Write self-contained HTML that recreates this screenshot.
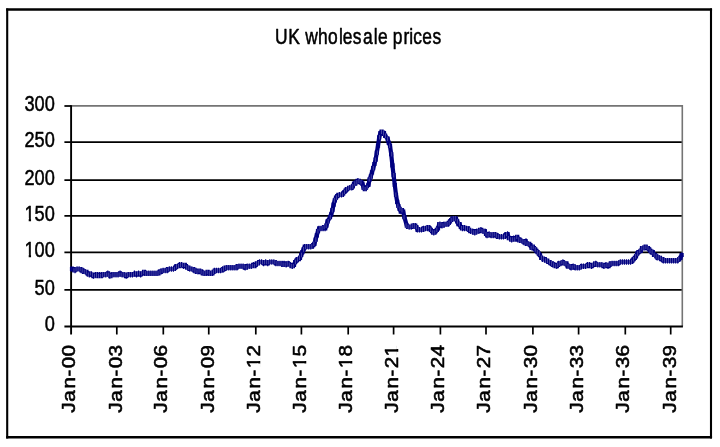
<!DOCTYPE html>
<html><head><meta charset="utf-8"><title>UK wholesale prices</title>
<style>
html,body{margin:0;padding:0;background:#fff;}
body{width:720px;height:447px;overflow:hidden;}
svg{display:block;}
text{font-family:"Liberation Sans",Arial,sans-serif;fill:#000;stroke:#000;stroke-linejoin:round;}
</style></head><body>
<svg width="720" height="447" viewBox="0 0 720 447">
<rect x="0" y="0" width="720" height="447" fill="#fff"/>
<path d="M6.15 9.55H712.05M6.15 437.3H712.05" fill="none" stroke="#000" stroke-width="2.4"/>
<path d="M7.2 8.4V438.4M711.0 8.4V438.4" fill="none" stroke="#000" stroke-width="2.1"/>
<path d="M71.1 105.9 H682.3 V326.4" fill="none" stroke="#747474" stroke-width="1.6"/>
<line x1="64.4" y1="106.0" x2="71.1" y2="106.0" stroke="#000" stroke-width="1.75"/>
<line x1="64.4" y1="142.0" x2="681.7" y2="142.0" stroke="#000" stroke-width="1.75"/>
<line x1="64.4" y1="180.0" x2="681.7" y2="180.0" stroke="#000" stroke-width="1.75"/>
<line x1="64.4" y1="215.9" x2="681.7" y2="215.9" stroke="#000" stroke-width="1.75"/>
<line x1="64.4" y1="252.3" x2="681.7" y2="252.3" stroke="#000" stroke-width="1.75"/>
<line x1="64.4" y1="289.9" x2="681.7" y2="289.9" stroke="#000" stroke-width="1.75"/>
<line x1="64.4" y1="326.4" x2="682.9" y2="326.4" stroke="#000" stroke-width="2.0"/>
<line x1="71.1" y1="105.2" x2="71.1" y2="334.5" stroke="#000" stroke-width="1.9"/>
<line x1="116.80" y1="326.4" x2="116.80" y2="334.5" stroke="#000" stroke-width="1.7"/>
<line x1="163.30" y1="326.4" x2="163.30" y2="334.5" stroke="#000" stroke-width="1.7"/>
<line x1="208.75" y1="326.4" x2="208.75" y2="334.5" stroke="#000" stroke-width="1.7"/>
<line x1="255.80" y1="326.4" x2="255.80" y2="334.5" stroke="#000" stroke-width="1.7"/>
<line x1="301.40" y1="326.4" x2="301.40" y2="334.5" stroke="#000" stroke-width="1.7"/>
<line x1="348.20" y1="326.4" x2="348.20" y2="334.5" stroke="#000" stroke-width="1.7"/>
<line x1="393.60" y1="326.4" x2="393.60" y2="334.5" stroke="#000" stroke-width="1.7"/>
<line x1="440.40" y1="326.4" x2="440.40" y2="334.5" stroke="#000" stroke-width="1.7"/>
<line x1="486.00" y1="326.4" x2="486.00" y2="334.5" stroke="#000" stroke-width="1.7"/>
<line x1="532.90" y1="326.4" x2="532.90" y2="334.5" stroke="#000" stroke-width="1.7"/>
<line x1="578.60" y1="326.4" x2="578.60" y2="334.5" stroke="#000" stroke-width="1.7"/>
<line x1="625.30" y1="326.4" x2="625.30" y2="334.5" stroke="#000" stroke-width="1.7"/>
<line x1="670.70" y1="326.4" x2="670.70" y2="334.5" stroke="#000" stroke-width="1.7"/>
<path d="M69.9 266.9h4.2v4.2h-4.2zM71.1 266.9h4.2v4.2h-4.2zM72.3 268.4h4.2v4.2h-4.2zM74.7 266.9h4.2v4.2h-4.2zM75.9 266.9h4.2v4.2h-4.2zM77.1 266.9h4.2v4.2h-4.2zM78.3 266.9h4.2v4.2h-4.2zM79.5 268.4h4.2v4.2h-4.2zM80.7 268.4h4.2v4.2h-4.2zM81.9 269.8h4.2v4.2h-4.2zM83.1 269.8h4.2v4.2h-4.2zM84.3 269.8h4.2v4.2h-4.2zM85.5 271.2h4.2v4.2h-4.2zM86.7 272.6h4.2v4.2h-4.2zM87.9 271.2h4.2v4.2h-4.2zM89.1 272.6h4.2v4.2h-4.2zM90.3 272.6h4.2v4.2h-4.2zM91.5 274.0h4.2v4.2h-4.2zM93.9 272.6h4.2v4.2h-4.2zM95.1 272.6h4.2v4.2h-4.2zM96.3 274.0h4.2v4.2h-4.2zM97.5 272.6h4.2v4.2h-4.2zM98.7 274.0h4.2v4.2h-4.2zM99.9 272.6h4.2v4.2h-4.2zM101.1 272.6h4.2v4.2h-4.2zM102.3 272.6h4.2v4.2h-4.2zM103.5 272.6h4.2v4.2h-4.2zM104.7 272.6h4.2v4.2h-4.2zM105.9 271.2h4.2v4.2h-4.2zM107.1 272.6h4.2v4.2h-4.2zM108.3 274.0h4.2v4.2h-4.2zM109.5 272.6h4.2v4.2h-4.2zM110.7 272.6h4.2v4.2h-4.2zM113.1 272.6h4.2v4.2h-4.2zM114.3 272.6h4.2v4.2h-4.2zM115.5 272.6h4.2v4.2h-4.2zM116.7 272.6h4.2v4.2h-4.2zM117.9 271.2h4.2v4.2h-4.2zM119.1 272.6h4.2v4.2h-4.2zM120.3 272.6h4.2v4.2h-4.2zM121.5 272.6h4.2v4.2h-4.2zM122.7 272.6h4.2v4.2h-4.2zM123.9 274.0h4.2v4.2h-4.2zM125.1 272.6h4.2v4.2h-4.2zM126.3 272.6h4.2v4.2h-4.2zM127.5 272.6h4.2v4.2h-4.2zM128.7 272.6h4.2v4.2h-4.2zM129.9 272.6h4.2v4.2h-4.2zM131.1 272.6h4.2v4.2h-4.2zM133.5 271.2h4.2v4.2h-4.2zM134.7 272.6h4.2v4.2h-4.2zM135.9 271.2h4.2v4.2h-4.2zM137.1 271.2h4.2v4.2h-4.2zM138.3 272.6h4.2v4.2h-4.2zM139.5 271.2h4.2v4.2h-4.2zM140.7 271.2h4.2v4.2h-4.2zM141.9 269.8h4.2v4.2h-4.2zM143.1 271.2h4.2v4.2h-4.2zM144.3 271.2h4.2v4.2h-4.2zM145.5 271.2h4.2v4.2h-4.2zM146.7 271.2h4.2v4.2h-4.2zM147.9 271.2h4.2v4.2h-4.2zM149.1 271.2h4.2v4.2h-4.2zM150.3 271.2h4.2v4.2h-4.2zM152.7 271.2h4.2v4.2h-4.2zM153.9 271.2h4.2v4.2h-4.2zM155.1 271.2h4.2v4.2h-4.2zM156.3 271.2h4.2v4.2h-4.2zM157.5 269.8h4.2v4.2h-4.2zM158.7 269.8h4.2v4.2h-4.2zM159.9 268.4h4.2v4.2h-4.2zM161.1 268.4h4.2v4.2h-4.2zM162.3 268.4h4.2v4.2h-4.2zM163.5 268.4h4.2v4.2h-4.2zM164.7 268.4h4.2v4.2h-4.2zM165.9 266.9h4.2v4.2h-4.2zM167.1 266.9h4.2v4.2h-4.2zM168.3 266.9h4.2v4.2h-4.2zM169.5 266.9h4.2v4.2h-4.2zM171.9 266.9h4.2v4.2h-4.2zM173.1 265.5h4.2v4.2h-4.2zM174.3 264.1h4.2v4.2h-4.2zM175.5 264.1h4.2v4.2h-4.2zM176.7 264.1h4.2v4.2h-4.2zM177.9 262.7h4.2v4.2h-4.2zM179.1 262.7h4.2v4.2h-4.2zM180.3 262.7h4.2v4.2h-4.2zM181.5 264.1h4.2v4.2h-4.2zM182.7 262.7h4.2v4.2h-4.2zM183.9 264.1h4.2v4.2h-4.2zM185.1 265.5h4.2v4.2h-4.2zM186.3 265.5h4.2v4.2h-4.2zM187.5 266.9h4.2v4.2h-4.2zM188.7 266.9h4.2v4.2h-4.2zM191.1 266.9h4.2v4.2h-4.2zM192.3 268.4h4.2v4.2h-4.2zM193.5 268.4h4.2v4.2h-4.2zM194.7 269.8h4.2v4.2h-4.2zM195.9 269.8h4.2v4.2h-4.2zM197.1 268.4h4.2v4.2h-4.2zM198.3 269.8h4.2v4.2h-4.2zM199.5 269.8h4.2v4.2h-4.2zM200.7 271.2h4.2v4.2h-4.2zM201.9 271.2h4.2v4.2h-4.2zM203.1 271.2h4.2v4.2h-4.2zM204.3 271.2h4.2v4.2h-4.2zM205.5 269.8h4.2v4.2h-4.2zM206.7 271.2h4.2v4.2h-4.2zM207.9 271.2h4.2v4.2h-4.2zM210.3 271.2h4.2v4.2h-4.2zM211.5 269.8h4.2v4.2h-4.2zM212.7 268.4h4.2v4.2h-4.2zM213.9 268.4h4.2v4.2h-4.2zM215.1 268.4h4.2v4.2h-4.2zM216.3 268.4h4.2v4.2h-4.2zM217.5 268.4h4.2v4.2h-4.2zM218.7 268.4h4.2v4.2h-4.2zM219.9 268.4h4.2v4.2h-4.2zM221.1 266.9h4.2v4.2h-4.2zM222.3 266.9h4.2v4.2h-4.2zM223.5 265.5h4.2v4.2h-4.2zM224.7 265.5h4.2v4.2h-4.2zM225.9 265.5h4.2v4.2h-4.2zM227.1 265.5h4.2v4.2h-4.2zM228.3 265.5h4.2v4.2h-4.2zM230.7 265.5h4.2v4.2h-4.2zM231.9 265.5h4.2v4.2h-4.2zM233.1 265.5h4.2v4.2h-4.2zM234.3 265.5h4.2v4.2h-4.2zM235.5 264.1h4.2v4.2h-4.2zM236.7 264.1h4.2v4.2h-4.2zM237.9 264.1h4.2v4.2h-4.2zM239.1 264.1h4.2v4.2h-4.2zM240.3 264.1h4.2v4.2h-4.2zM241.5 264.1h4.2v4.2h-4.2zM242.7 265.5h4.2v4.2h-4.2zM243.9 265.5h4.2v4.2h-4.2zM245.1 264.1h4.2v4.2h-4.2zM246.3 264.1h4.2v4.2h-4.2zM247.5 264.1h4.2v4.2h-4.2zM249.9 264.1h4.2v4.2h-4.2zM251.1 262.7h4.2v4.2h-4.2zM252.3 264.1h4.2v4.2h-4.2zM253.5 262.7h4.2v4.2h-4.2zM254.7 261.3h4.2v4.2h-4.2zM255.9 261.3h4.2v4.2h-4.2zM257.1 259.9h4.2v4.2h-4.2zM258.3 259.9h4.2v4.2h-4.2zM259.5 259.9h4.2v4.2h-4.2zM260.7 259.9h4.2v4.2h-4.2zM261.9 261.3h4.2v4.2h-4.2zM263.1 259.9h4.2v4.2h-4.2zM264.3 259.9h4.2v4.2h-4.2zM265.5 261.3h4.2v4.2h-4.2zM266.7 259.9h4.2v4.2h-4.2zM269.1 259.9h4.2v4.2h-4.2zM270.3 259.9h4.2v4.2h-4.2zM271.5 259.9h4.2v4.2h-4.2zM272.7 259.9h4.2v4.2h-4.2zM273.9 261.3h4.2v4.2h-4.2zM275.1 261.3h4.2v4.2h-4.2zM276.3 261.3h4.2v4.2h-4.2zM277.5 261.3h4.2v4.2h-4.2zM278.7 261.3h4.2v4.2h-4.2zM279.9 261.3h4.2v4.2h-4.2zM281.1 262.7h4.2v4.2h-4.2zM282.3 261.3h4.2v4.2h-4.2zM283.5 262.7h4.2v4.2h-4.2zM284.7 261.3h4.2v4.2h-4.2zM285.9 261.3h4.2v4.2h-4.2zM288.3 262.7h4.2v4.2h-4.2zM289.5 264.1h4.2v4.2h-4.2zM290.7 264.1h4.2v4.2h-4.2zM291.9 262.7h4.2v4.2h-4.2zM293.1 259.9h4.2v4.2h-4.2zM294.3 258.5h4.2v4.2h-4.2zM295.5 257.1h4.2v4.2h-4.2zM296.7 257.1h4.2v4.2h-4.2zM297.9 255.7h4.2v4.2h-4.2zM299.1 252.9h4.2v4.2h-4.2zM300.3 250.1h4.2v4.2h-4.2zM301.5 247.3h4.2v4.2h-4.2zM302.7 244.5h4.2v4.2h-4.2zM303.9 244.5h4.2v4.2h-4.2zM305.1 244.5h4.2v4.2h-4.2zM307.5 244.5h4.2v4.2h-4.2zM308.7 244.5h4.2v4.2h-4.2zM309.9 244.5h4.2v4.2h-4.2zM311.1 243.1h4.2v4.2h-4.2zM312.3 241.7h4.2v4.2h-4.2zM313.5 237.5h4.2v4.2h-4.2zM314.7 233.3h4.2v4.2h-4.2zM315.9 229.1h4.2v4.2h-4.2zM317.1 226.3h4.2v4.2h-4.2zM318.3 226.3h4.2v4.2h-4.2zM319.5 226.3h4.2v4.2h-4.2zM320.7 226.3h4.2v4.2h-4.2zM321.9 224.9h4.2v4.2h-4.2zM323.1 226.3h4.2v4.2h-4.2zM324.3 223.5h4.2v4.2h-4.2zM325.5 219.3h4.2v4.2h-4.2zM327.9 215.1h4.2v4.2h-4.2zM329.1 212.3h4.2v4.2h-4.2zM330.3 208.1h4.2v4.2h-4.2zM331.5 202.5h4.2v4.2h-4.2zM332.7 198.3h4.2v4.2h-4.2zM333.9 195.5h4.2v4.2h-4.2zM335.1 194.1h4.2v4.2h-4.2zM336.3 192.7h4.2v4.2h-4.2zM337.5 192.7h4.2v4.2h-4.2zM338.7 192.7h4.2v4.2h-4.2zM339.9 192.7h4.2v4.2h-4.2zM341.1 191.3h4.2v4.2h-4.2zM342.3 189.9h4.2v4.2h-4.2zM343.5 188.5h4.2v4.2h-4.2zM344.7 187.1h4.2v4.2h-4.2zM347.1 185.7h4.2v4.2h-4.2zM348.3 185.7h4.2v4.2h-4.2zM349.5 185.7h4.2v4.2h-4.2zM350.7 184.3h4.2v4.2h-4.2zM351.9 181.5h4.2v4.2h-4.2zM353.1 181.5h4.2v4.2h-4.2zM354.3 180.1h4.2v4.2h-4.2zM355.5 178.7h4.2v4.2h-4.2zM356.7 178.7h4.2v4.2h-4.2zM357.9 180.1h4.2v4.2h-4.2zM359.1 180.1h4.2v4.2h-4.2zM360.3 181.5h4.2v4.2h-4.2zM361.5 185.7h4.2v4.2h-4.2zM362.7 187.1h4.2v4.2h-4.2zM363.9 185.7h4.2v4.2h-4.2zM366.3 182.9h4.2v4.2h-4.2zM367.5 177.3h4.2v4.2h-4.2zM368.7 174.5h4.2v4.2h-4.2zM369.9 170.3h4.2v4.2h-4.2zM371.1 166.1h4.2v4.2h-4.2zM372.3 161.9h4.2v4.2h-4.2zM373.5 157.6h4.2v4.2h-4.2zM374.7 150.6h4.2v4.2h-4.2zM375.9 143.6h4.2v4.2h-4.2zM377.1 135.2h4.2v4.2h-4.2zM378.3 131.0h4.2v4.2h-4.2zM379.5 129.6h4.2v4.2h-4.2zM380.7 131.0h4.2v4.2h-4.2zM381.9 131.0h4.2v4.2h-4.2zM383.1 133.8h4.2v4.2h-4.2zM385.5 136.6h4.2v4.2h-4.2zM386.7 140.8h4.2v4.2h-4.2zM387.9 143.6h4.2v4.2h-4.2zM389.1 152.0h4.2v4.2h-4.2zM390.3 163.3h4.2v4.2h-4.2zM391.5 173.1h4.2v4.2h-4.2zM392.7 182.9h4.2v4.2h-4.2zM393.9 192.7h4.2v4.2h-4.2zM395.1 199.7h4.2v4.2h-4.2zM396.3 203.9h4.2v4.2h-4.2zM397.5 206.7h4.2v4.2h-4.2zM398.7 209.5h4.2v4.2h-4.2zM399.9 208.1h4.2v4.2h-4.2zM401.1 209.5h4.2v4.2h-4.2zM402.3 215.1h4.2v4.2h-4.2zM404.7 223.5h4.2v4.2h-4.2zM405.9 224.9h4.2v4.2h-4.2zM407.1 224.9h4.2v4.2h-4.2zM408.3 224.9h4.2v4.2h-4.2zM409.5 224.9h4.2v4.2h-4.2zM410.7 223.5h4.2v4.2h-4.2zM411.9 223.5h4.2v4.2h-4.2zM413.1 223.5h4.2v4.2h-4.2zM414.3 224.9h4.2v4.2h-4.2zM415.5 227.7h4.2v4.2h-4.2zM416.7 227.7h4.2v4.2h-4.2zM417.9 227.7h4.2v4.2h-4.2zM419.1 227.7h4.2v4.2h-4.2zM420.3 227.7h4.2v4.2h-4.2zM421.5 226.3h4.2v4.2h-4.2zM423.9 226.3h4.2v4.2h-4.2zM425.1 226.3h4.2v4.2h-4.2zM426.3 224.9h4.2v4.2h-4.2zM427.5 226.3h4.2v4.2h-4.2zM428.7 227.7h4.2v4.2h-4.2zM429.9 229.1h4.2v4.2h-4.2zM431.1 230.5h4.2v4.2h-4.2zM432.3 230.5h4.2v4.2h-4.2zM433.5 229.1h4.2v4.2h-4.2zM434.7 227.7h4.2v4.2h-4.2zM435.9 226.3h4.2v4.2h-4.2zM437.1 222.1h4.2v4.2h-4.2zM438.3 222.1h4.2v4.2h-4.2zM439.5 223.5h4.2v4.2h-4.2zM440.7 223.5h4.2v4.2h-4.2zM441.9 222.1h4.2v4.2h-4.2zM444.3 222.1h4.2v4.2h-4.2zM445.5 222.1h4.2v4.2h-4.2zM446.7 220.7h4.2v4.2h-4.2zM447.9 219.3h4.2v4.2h-4.2zM449.1 217.9h4.2v4.2h-4.2zM450.3 216.5h4.2v4.2h-4.2zM451.5 216.5h4.2v4.2h-4.2zM452.7 216.5h4.2v4.2h-4.2zM453.9 216.5h4.2v4.2h-4.2zM455.1 219.3h4.2v4.2h-4.2zM456.3 222.1h4.2v4.2h-4.2zM457.5 222.1h4.2v4.2h-4.2zM458.7 224.9h4.2v4.2h-4.2zM459.9 226.3h4.2v4.2h-4.2zM461.1 224.9h4.2v4.2h-4.2zM463.5 226.3h4.2v4.2h-4.2zM464.7 226.3h4.2v4.2h-4.2zM465.9 226.3h4.2v4.2h-4.2zM467.1 227.7h4.2v4.2h-4.2zM468.3 229.1h4.2v4.2h-4.2zM469.5 229.1h4.2v4.2h-4.2zM470.7 229.1h4.2v4.2h-4.2zM471.9 230.5h4.2v4.2h-4.2zM473.1 230.5h4.2v4.2h-4.2zM474.3 229.1h4.2v4.2h-4.2zM475.5 229.1h4.2v4.2h-4.2zM476.7 229.1h4.2v4.2h-4.2zM477.9 227.7h4.2v4.2h-4.2zM479.1 227.7h4.2v4.2h-4.2zM480.3 229.1h4.2v4.2h-4.2zM482.7 229.1h4.2v4.2h-4.2zM483.9 231.9h4.2v4.2h-4.2zM485.1 233.3h4.2v4.2h-4.2zM486.3 233.3h4.2v4.2h-4.2zM487.5 231.9h4.2v4.2h-4.2zM488.7 233.3h4.2v4.2h-4.2zM489.9 233.3h4.2v4.2h-4.2zM491.1 233.3h4.2v4.2h-4.2zM492.3 231.9h4.2v4.2h-4.2zM493.5 233.3h4.2v4.2h-4.2zM494.7 233.3h4.2v4.2h-4.2zM495.9 234.7h4.2v4.2h-4.2zM497.1 234.7h4.2v4.2h-4.2zM498.3 234.7h4.2v4.2h-4.2zM499.5 234.7h4.2v4.2h-4.2zM501.9 234.7h4.2v4.2h-4.2zM503.1 233.3h4.2v4.2h-4.2zM504.3 231.9h4.2v4.2h-4.2zM505.5 231.9h4.2v4.2h-4.2zM506.7 236.1h4.2v4.2h-4.2zM507.9 236.1h4.2v4.2h-4.2zM509.1 237.5h4.2v4.2h-4.2zM510.3 237.5h4.2v4.2h-4.2zM511.5 236.1h4.2v4.2h-4.2zM512.7 237.5h4.2v4.2h-4.2zM513.9 236.1h4.2v4.2h-4.2zM515.1 234.7h4.2v4.2h-4.2zM516.3 237.5h4.2v4.2h-4.2zM517.5 237.5h4.2v4.2h-4.2zM518.7 238.9h4.2v4.2h-4.2zM521.1 238.9h4.2v4.2h-4.2zM522.3 240.3h4.2v4.2h-4.2zM523.5 238.9h4.2v4.2h-4.2zM524.7 241.7h4.2v4.2h-4.2zM525.9 241.7h4.2v4.2h-4.2zM527.1 241.7h4.2v4.2h-4.2zM528.3 243.1h4.2v4.2h-4.2zM529.5 245.9h4.2v4.2h-4.2zM530.7 244.5h4.2v4.2h-4.2zM531.9 245.9h4.2v4.2h-4.2zM533.1 247.3h4.2v4.2h-4.2zM534.3 248.7h4.2v4.2h-4.2zM535.5 250.1h4.2v4.2h-4.2zM536.7 251.5h4.2v4.2h-4.2zM537.9 252.9h4.2v4.2h-4.2zM539.1 255.7h4.2v4.2h-4.2zM541.5 257.1h4.2v4.2h-4.2zM542.7 257.1h4.2v4.2h-4.2zM543.9 258.5h4.2v4.2h-4.2zM545.1 258.5h4.2v4.2h-4.2zM546.3 259.9h4.2v4.2h-4.2zM547.5 259.9h4.2v4.2h-4.2zM548.7 261.3h4.2v4.2h-4.2zM549.9 261.3h4.2v4.2h-4.2zM551.1 262.7h4.2v4.2h-4.2zM552.3 262.7h4.2v4.2h-4.2zM553.5 264.1h4.2v4.2h-4.2zM554.7 264.1h4.2v4.2h-4.2zM555.9 262.7h4.2v4.2h-4.2zM557.1 261.3h4.2v4.2h-4.2zM558.3 261.3h4.2v4.2h-4.2zM560.7 259.9h4.2v4.2h-4.2zM561.9 261.3h4.2v4.2h-4.2zM563.1 261.3h4.2v4.2h-4.2zM564.3 261.3h4.2v4.2h-4.2zM565.5 264.1h4.2v4.2h-4.2zM566.7 264.1h4.2v4.2h-4.2zM567.9 264.1h4.2v4.2h-4.2zM569.1 265.5h4.2v4.2h-4.2zM570.3 265.5h4.2v4.2h-4.2zM571.5 264.1h4.2v4.2h-4.2zM572.7 265.5h4.2v4.2h-4.2zM573.9 265.5h4.2v4.2h-4.2zM575.1 265.5h4.2v4.2h-4.2zM576.3 265.5h4.2v4.2h-4.2zM577.5 265.5h4.2v4.2h-4.2zM579.9 264.1h4.2v4.2h-4.2zM581.1 264.1h4.2v4.2h-4.2zM582.3 264.1h4.2v4.2h-4.2zM583.5 264.1h4.2v4.2h-4.2zM584.7 264.1h4.2v4.2h-4.2zM585.9 262.7h4.2v4.2h-4.2zM587.1 262.7h4.2v4.2h-4.2zM588.3 264.1h4.2v4.2h-4.2zM589.5 264.1h4.2v4.2h-4.2zM590.7 262.7h4.2v4.2h-4.2zM591.9 262.7h4.2v4.2h-4.2zM593.1 261.3h4.2v4.2h-4.2zM594.3 262.7h4.2v4.2h-4.2zM595.5 262.7h4.2v4.2h-4.2zM596.7 262.7h4.2v4.2h-4.2zM599.1 262.7h4.2v4.2h-4.2zM600.3 262.7h4.2v4.2h-4.2zM601.5 264.1h4.2v4.2h-4.2zM602.7 264.1h4.2v4.2h-4.2zM603.9 262.7h4.2v4.2h-4.2zM605.1 262.7h4.2v4.2h-4.2zM606.3 264.1h4.2v4.2h-4.2zM607.5 262.7h4.2v4.2h-4.2zM608.7 261.3h4.2v4.2h-4.2zM609.9 261.3h4.2v4.2h-4.2zM611.1 261.3h4.2v4.2h-4.2zM612.3 261.3h4.2v4.2h-4.2zM613.5 261.3h4.2v4.2h-4.2zM614.7 261.3h4.2v4.2h-4.2zM615.9 261.3h4.2v4.2h-4.2zM618.3 259.9h4.2v4.2h-4.2zM619.5 259.9h4.2v4.2h-4.2zM620.7 259.9h4.2v4.2h-4.2zM621.9 259.9h4.2v4.2h-4.2zM623.1 259.9h4.2v4.2h-4.2zM624.3 259.9h4.2v4.2h-4.2zM625.5 259.9h4.2v4.2h-4.2zM626.7 259.9h4.2v4.2h-4.2zM627.9 259.9h4.2v4.2h-4.2zM629.1 259.9h4.2v4.2h-4.2zM630.3 258.5h4.2v4.2h-4.2zM631.5 257.1h4.2v4.2h-4.2zM632.7 255.7h4.2v4.2h-4.2zM633.9 254.3h4.2v4.2h-4.2zM635.1 251.5h4.2v4.2h-4.2zM636.3 250.1h4.2v4.2h-4.2zM638.7 248.7h4.2v4.2h-4.2zM639.9 245.9h4.2v4.2h-4.2zM641.1 245.9h4.2v4.2h-4.2zM642.3 245.9h4.2v4.2h-4.2zM643.5 244.5h4.2v4.2h-4.2zM644.7 245.9h4.2v4.2h-4.2zM645.9 245.9h4.2v4.2h-4.2zM647.1 247.3h4.2v4.2h-4.2zM648.3 248.7h4.2v4.2h-4.2zM649.5 250.1h4.2v4.2h-4.2zM650.7 250.1h4.2v4.2h-4.2zM651.9 252.9h4.2v4.2h-4.2zM653.1 252.9h4.2v4.2h-4.2zM654.3 254.3h4.2v4.2h-4.2zM655.5 255.7h4.2v4.2h-4.2zM657.9 255.7h4.2v4.2h-4.2zM659.1 257.1h4.2v4.2h-4.2zM660.3 257.1h4.2v4.2h-4.2zM661.5 258.5h4.2v4.2h-4.2zM662.7 258.5h4.2v4.2h-4.2zM663.9 258.5h4.2v4.2h-4.2zM665.1 258.5h4.2v4.2h-4.2zM666.3 258.5h4.2v4.2h-4.2zM667.5 258.5h4.2v4.2h-4.2zM668.7 258.5h4.2v4.2h-4.2zM669.9 258.5h4.2v4.2h-4.2zM671.1 258.5h4.2v4.2h-4.2zM672.3 258.5h4.2v4.2h-4.2zM673.5 258.5h4.2v4.2h-4.2zM674.7 258.5h4.2v4.2h-4.2zM677.1 257.1h4.2v4.2h-4.2zM678.3 255.7h4.2v4.2h-4.2zM679.5 252.9h4.2v4.2h-4.2z" fill="#000080" stroke="none"/>
<polyline points="72.0,269.0 73.2,269.0 74.4,270.5 76.8,269.0 78.0,269.0 79.2,269.0 80.4,269.0 81.6,270.5 82.8,270.5 84.0,271.9 85.2,271.9 86.4,271.9 87.6,273.3 88.8,274.7 90.0,273.3 91.2,274.7 92.4,274.7 93.6,276.1 96.0,274.7 97.2,274.7 98.4,276.1 99.6,274.7 100.8,276.1 102.0,274.7 103.2,274.7 104.4,274.7 105.6,274.7 106.8,274.7 108.0,273.3 109.2,274.7 110.4,276.1 111.6,274.7 112.8,274.7 115.2,274.7 116.4,274.7 117.6,274.7 118.8,274.7 120.0,273.3 121.2,274.7 122.4,274.7 123.6,274.7 124.8,274.7 126.0,276.1 127.2,274.7 128.4,274.7 129.6,274.7 130.8,274.7 132.0,274.7 133.2,274.7 135.6,273.3 136.8,274.7 138.0,273.3 139.2,273.3 140.4,274.7 141.6,273.3 142.8,273.3 144.0,271.9 145.2,273.3 146.4,273.3 147.6,273.3 148.8,273.3 150.0,273.3 151.2,273.3 152.4,273.3 154.8,273.3 156.0,273.3 157.2,273.3 158.4,273.3 159.6,271.9 160.8,271.9 162.0,270.5 163.2,270.5 164.4,270.5 165.6,270.5 166.8,270.5 168.0,269.0 169.2,269.0 170.4,269.0 171.6,269.0 174.0,269.0 175.2,267.6 176.4,266.2 177.6,266.2 178.8,266.2 180.0,264.8 181.2,264.8 182.4,264.8 183.6,266.2 184.8,264.8 186.0,266.2 187.2,267.6 188.4,267.6 189.6,269.0 190.8,269.0 193.2,269.0 194.4,270.5 195.6,270.5 196.8,271.9 198.0,271.9 199.2,270.5 200.4,271.9 201.6,271.9 202.8,273.3 204.0,273.3 205.2,273.3 206.4,273.3 207.6,271.9 208.8,273.3 210.0,273.3 212.4,273.3 213.6,271.9 214.8,270.5 216.0,270.5 217.2,270.5 218.4,270.5 219.6,270.5 220.8,270.5 222.0,270.5 223.2,269.0 224.4,269.0 225.6,267.6 226.8,267.6 228.0,267.6 229.2,267.6 230.4,267.6 232.8,267.6 234.0,267.6 235.2,267.6 236.4,267.6 237.6,266.2 238.8,266.2 240.0,266.2 241.2,266.2 242.4,266.2 243.6,266.2 244.8,267.6 246.0,267.6 247.2,266.2 248.4,266.2 249.6,266.2 252.0,266.2 253.2,264.8 254.4,266.2 255.6,264.8 256.8,263.4 258.0,263.4 259.2,262.0 260.4,262.0 261.6,262.0 262.8,262.0 264.0,263.4 265.2,262.0 266.4,262.0 267.6,263.4 268.8,262.0 271.2,262.0 272.4,262.0 273.6,262.0 274.8,262.0 276.0,263.4 277.2,263.4 278.4,263.4 279.6,263.4 280.8,263.4 282.0,263.4 283.2,264.8 284.4,263.4 285.6,264.8 286.8,263.4 288.0,263.4 290.4,264.8 291.6,266.2 292.8,266.2 294.0,264.8 295.2,262.0 296.4,260.6 297.6,259.2 298.8,259.2 300.0,257.8 301.2,255.0 302.4,252.2 303.6,249.4 304.8,246.6 306.0,246.6 307.2,246.6 309.6,246.6 310.8,246.6 312.0,246.6 313.2,245.2 314.4,243.8 315.6,239.6 316.8,235.4 318.0,231.2 319.2,228.4 320.4,228.4 321.6,228.4 322.8,228.4 324.0,227.0 325.2,228.4 326.4,225.6 327.6,221.4 330.0,217.2 331.2,214.4 332.4,210.2 333.6,204.6 334.8,200.4 336.0,197.6 337.2,196.2 338.4,194.8 339.6,194.8 340.8,194.8 342.0,194.8 343.2,193.4 344.4,192.0 345.6,190.6 346.8,189.2 349.2,187.8 350.4,187.8 351.6,187.8 352.8,186.4 354.0,183.6 355.2,183.6 356.4,182.2 357.6,180.8 358.8,180.8 360.0,182.2 361.2,182.2 362.4,183.6 363.6,187.8 364.8,189.2 366.0,187.8 368.4,185.0 369.6,179.4 370.8,176.6 372.0,172.4 373.2,168.2 374.4,164.0 375.6,159.7 376.8,152.7 378.0,145.7 379.2,137.3 380.4,133.1 381.6,131.7 382.8,133.1 384.0,133.1 385.2,135.9 387.6,138.7 388.8,142.9 390.0,145.7 391.2,154.1 392.4,165.4 393.6,175.2 394.8,185.0 396.0,194.8 397.2,201.8 398.4,206.0 399.6,208.8 400.8,211.6 402.0,210.2 403.2,211.6 404.4,217.2 406.8,225.6 408.0,227.0 409.2,227.0 410.4,227.0 411.6,227.0 412.8,225.6 414.0,225.6 415.2,225.6 416.4,227.0 417.6,229.8 418.8,229.8 420.0,229.8 421.2,229.8 422.4,229.8 423.6,228.4 426.0,228.4 427.2,228.4 428.4,227.0 429.6,228.4 430.8,229.8 432.0,231.2 433.2,232.6 434.4,232.6 435.6,231.2 436.8,229.8 438.0,228.4 439.2,224.2 440.4,224.2 441.6,225.6 442.8,225.6 444.0,224.2 446.4,224.2 447.6,224.2 448.8,222.8 450.0,221.4 451.2,220.0 452.4,218.6 453.6,218.6 454.8,218.6 456.0,218.6 457.2,221.4 458.4,224.2 459.6,224.2 460.8,227.0 462.0,228.4 463.2,227.0 465.6,228.4 466.8,228.4 468.0,228.4 469.2,229.8 470.4,231.2 471.6,231.2 472.8,231.2 474.0,232.6 475.2,232.6 476.4,231.2 477.6,231.2 478.8,231.2 480.0,229.8 481.2,229.8 482.4,231.2 484.8,231.2 486.0,234.0 487.2,235.4 488.4,235.4 489.6,234.0 490.8,235.4 492.0,235.4 493.2,235.4 494.4,234.0 495.6,235.4 496.8,235.4 498.0,236.8 499.2,236.8 500.4,236.8 501.6,236.8 504.0,236.8 505.2,235.4 506.4,234.0 507.6,234.0 508.8,238.2 510.0,238.2 511.2,239.6 512.4,239.6 513.6,238.2 514.8,239.6 516.0,238.2 517.2,236.8 518.4,239.6 519.6,239.6 520.8,241.0 523.2,241.0 524.4,242.4 525.6,241.0 526.8,243.8 528.0,243.8 529.2,243.8 530.4,245.2 531.6,248.0 532.8,246.6 534.0,248.0 535.2,249.4 536.4,250.8 537.6,252.2 538.8,253.6 540.0,255.0 541.2,257.8 543.6,259.2 544.8,259.2 546.0,260.6 547.2,260.6 548.4,262.0 549.6,262.0 550.8,263.4 552.0,263.4 553.2,264.8 554.4,264.8 555.6,266.2 556.8,266.2 558.0,264.8 559.2,263.4 560.4,263.4 562.8,262.0 564.0,263.4 565.2,263.4 566.4,263.4 567.6,266.2 568.8,266.2 570.0,266.2 571.2,267.6 572.4,267.6 573.6,266.2 574.8,267.6 576.0,267.6 577.2,267.6 578.4,267.6 579.6,267.6 582.0,266.2 583.2,266.2 584.4,266.2 585.6,266.2 586.8,266.2 588.0,264.8 589.2,264.8 590.4,266.2 591.6,266.2 592.8,264.8 594.0,264.8 595.2,263.4 596.4,264.8 597.6,264.8 598.8,264.8 601.2,264.8 602.4,264.8 603.6,266.2 604.8,266.2 606.0,264.8 607.2,264.8 608.4,266.2 609.6,264.8 610.8,263.4 612.0,263.4 613.2,263.4 614.4,263.4 615.6,263.4 616.8,263.4 618.0,263.4 620.4,262.0 621.6,262.0 622.8,262.0 624.0,262.0 625.2,262.0 626.4,262.0 627.6,262.0 628.8,262.0 630.0,262.0 631.2,262.0 632.4,260.6 633.6,259.2 634.8,257.8 636.0,256.4 637.2,253.6 638.4,252.2 640.8,250.8 642.0,248.0 643.2,248.0 644.4,248.0 645.6,246.6 646.8,248.0 648.0,248.0 649.2,249.4 650.4,250.8 651.6,252.2 652.8,252.2 654.0,255.0 655.2,255.0 656.4,256.4 657.6,257.8 660.0,257.8 661.2,259.2 662.4,259.2 663.6,260.6 664.8,260.6 666.0,260.6 667.2,260.6 668.4,260.6 669.6,260.6 670.8,260.6 672.0,260.6 673.2,260.6 674.4,260.6 675.6,260.6 676.8,260.6 679.2,259.2 680.4,257.8 681.6,255.0" fill="none" stroke="#000080" stroke-width="4.2" stroke-linejoin="bevel"/>
<path d="M70.30 266.3h1.2v5.5h-1.2zM72.35 266.3h1.2v5.5h-1.2zM74.40 267.7h1.2v5.5h-1.2zM76.45 266.3h1.2v5.5h-1.2zM78.50 266.3h1.2v5.5h-1.2zM80.55 267.7h1.2v5.5h-1.2zM82.60 267.7h1.2v5.5h-1.2zM84.65 269.1h1.2v5.5h-1.2zM86.70 270.5h1.2v5.5h-1.2zM88.75 271.9h1.2v5.5h-1.2zM90.80 271.9h1.2v5.5h-1.2zM92.85 273.3h1.2v5.5h-1.2zM94.90 271.9h1.2v5.5h-1.2zM96.95 271.9h1.2v5.5h-1.2zM99.00 271.9h1.2v5.5h-1.2zM101.05 271.9h1.2v5.5h-1.2zM103.10 271.9h1.2v5.5h-1.2zM105.15 271.9h1.2v5.5h-1.2zM107.20 270.5h1.2v5.5h-1.2zM109.25 273.3h1.2v5.5h-1.2zM111.30 271.9h1.2v5.5h-1.2zM113.35 271.9h1.2v5.5h-1.2zM115.40 271.9h1.2v5.5h-1.2zM117.45 271.9h1.2v5.5h-1.2zM119.50 270.5h1.2v5.5h-1.2zM121.55 271.9h1.2v5.5h-1.2zM123.60 271.9h1.2v5.5h-1.2zM125.65 273.3h1.2v5.5h-1.2zM127.70 271.9h1.2v5.5h-1.2zM129.75 271.9h1.2v5.5h-1.2zM131.80 271.9h1.2v5.5h-1.2zM133.85 270.5h1.2v5.5h-1.2zM135.90 271.9h1.2v5.5h-1.2zM137.95 270.5h1.2v5.5h-1.2zM140.00 271.9h1.2v5.5h-1.2zM142.05 270.5h1.2v5.5h-1.2zM144.10 270.5h1.2v5.5h-1.2zM146.15 270.5h1.2v5.5h-1.2zM148.20 270.5h1.2v5.5h-1.2zM150.25 270.5h1.2v5.5h-1.2zM152.30 270.5h1.2v5.5h-1.2zM154.35 270.5h1.2v5.5h-1.2zM156.40 270.5h1.2v5.5h-1.2zM158.45 269.1h1.2v5.5h-1.2zM160.50 269.1h1.2v5.5h-1.2zM162.55 267.7h1.2v5.5h-1.2zM164.60 267.7h1.2v5.5h-1.2zM166.65 267.7h1.2v5.5h-1.2zM168.70 266.3h1.2v5.5h-1.2zM170.75 266.3h1.2v5.5h-1.2zM172.80 266.3h1.2v5.5h-1.2zM174.85 264.9h1.2v5.5h-1.2zM176.90 263.5h1.2v5.5h-1.2zM178.95 262.1h1.2v5.5h-1.2zM181.00 262.1h1.2v5.5h-1.2zM183.05 263.5h1.2v5.5h-1.2zM185.10 263.5h1.2v5.5h-1.2zM187.15 264.9h1.2v5.5h-1.2zM189.20 266.3h1.2v5.5h-1.2zM191.25 266.3h1.2v5.5h-1.2zM193.30 267.7h1.2v5.5h-1.2zM195.35 267.7h1.2v5.5h-1.2zM197.40 269.1h1.2v5.5h-1.2zM199.45 269.1h1.2v5.5h-1.2zM201.50 269.1h1.2v5.5h-1.2zM203.55 270.5h1.2v5.5h-1.2zM205.60 270.5h1.2v5.5h-1.2zM207.65 270.5h1.2v5.5h-1.2zM209.70 270.5h1.2v5.5h-1.2zM211.75 270.5h1.2v5.5h-1.2zM213.80 267.7h1.2v5.5h-1.2zM215.85 267.7h1.2v5.5h-1.2zM217.90 267.7h1.2v5.5h-1.2zM219.95 267.7h1.2v5.5h-1.2zM222.00 266.3h1.2v5.5h-1.2zM224.05 266.3h1.2v5.5h-1.2zM226.10 264.9h1.2v5.5h-1.2zM228.15 264.9h1.2v5.5h-1.2zM230.20 264.9h1.2v5.5h-1.2zM232.25 264.9h1.2v5.5h-1.2zM234.30 264.9h1.2v5.5h-1.2zM236.35 264.9h1.2v5.5h-1.2zM238.40 263.5h1.2v5.5h-1.2zM240.45 263.5h1.2v5.5h-1.2zM242.50 263.5h1.2v5.5h-1.2zM244.55 264.9h1.2v5.5h-1.2zM246.60 263.5h1.2v5.5h-1.2zM248.65 263.5h1.2v5.5h-1.2zM250.70 263.5h1.2v5.5h-1.2zM252.75 262.1h1.2v5.5h-1.2zM254.80 262.1h1.2v5.5h-1.2zM256.85 260.7h1.2v5.5h-1.2zM258.90 259.3h1.2v5.5h-1.2zM260.95 259.3h1.2v5.5h-1.2zM263.00 260.7h1.2v5.5h-1.2zM265.05 259.3h1.2v5.5h-1.2zM267.10 260.7h1.2v5.5h-1.2zM269.15 259.3h1.2v5.5h-1.2zM271.20 259.3h1.2v5.5h-1.2zM273.25 259.3h1.2v5.5h-1.2zM275.30 260.7h1.2v5.5h-1.2zM277.35 260.7h1.2v5.5h-1.2zM279.40 260.7h1.2v5.5h-1.2zM281.45 260.7h1.2v5.5h-1.2zM283.50 260.7h1.2v5.5h-1.2zM285.55 262.1h1.2v5.5h-1.2zM287.60 260.7h1.2v5.5h-1.2zM289.65 262.1h1.2v5.5h-1.2zM291.70 263.5h1.2v5.5h-1.2zM293.75 262.1h1.2v5.5h-1.2zM295.80 257.9h1.2v5.5h-1.2zM297.85 256.5h1.2v5.5h-1.2zM299.90 255.1h1.2v5.5h-1.2zM301.95 249.5h1.2v5.5h-1.2zM304.00 243.9h1.2v5.5h-1.2zM306.05 243.9h1.2v5.5h-1.2zM308.10 243.9h1.2v5.5h-1.2zM310.15 243.9h1.2v5.5h-1.2zM312.20 242.5h1.2v5.5h-1.2zM314.25 241.1h1.2v5.5h-1.2zM316.30 232.7h1.2v5.5h-1.2zM318.35 225.7h1.2v5.5h-1.2zM320.40 225.7h1.2v5.5h-1.2zM322.45 225.7h1.2v5.5h-1.2zM324.50 225.7h1.2v5.5h-1.2zM326.55 218.7h1.2v5.5h-1.2zM328.60 214.5h1.2v5.5h-1.2zM330.65 211.6h1.2v5.5h-1.2zM332.70 201.8h1.2v5.5h-1.2zM334.75 197.6h1.2v5.5h-1.2zM336.80 193.4h1.2v5.5h-1.2zM338.85 192.0h1.2v5.5h-1.2zM340.90 192.0h1.2v5.5h-1.2zM342.95 190.6h1.2v5.5h-1.2zM345.00 187.8h1.2v5.5h-1.2zM347.05 186.4h1.2v5.5h-1.2zM349.10 185.0h1.2v5.5h-1.2zM351.15 185.0h1.2v5.5h-1.2zM353.20 180.8h1.2v5.5h-1.2zM355.25 179.4h1.2v5.5h-1.2zM357.30 178.0h1.2v5.5h-1.2zM359.35 179.4h1.2v5.5h-1.2zM361.40 180.8h1.2v5.5h-1.2zM363.45 185.0h1.2v5.5h-1.2zM365.50 185.0h1.2v5.5h-1.2zM367.55 182.2h1.2v5.5h-1.2zM369.60 173.8h1.2v5.5h-1.2zM371.65 169.6h1.2v5.5h-1.2zM373.70 161.2h1.2v5.5h-1.2zM375.75 150.0h1.2v5.5h-1.2zM377.80 143.0h1.2v5.5h-1.2zM379.85 130.4h1.2v5.5h-1.2zM381.90 130.4h1.2v5.5h-1.2zM383.95 130.4h1.2v5.5h-1.2zM386.00 136.0h1.2v5.5h-1.2zM388.05 140.2h1.2v5.5h-1.2zM390.10 151.4h1.2v5.5h-1.2zM392.15 162.6h1.2v5.5h-1.2zM394.20 182.2h1.2v5.5h-1.2zM396.25 199.0h1.2v5.5h-1.2zM398.30 203.2h1.2v5.5h-1.2zM400.35 208.8h1.2v5.5h-1.2zM402.40 208.8h1.2v5.5h-1.2zM404.45 214.5h1.2v5.5h-1.2zM406.50 222.9h1.2v5.5h-1.2zM408.55 224.3h1.2v5.5h-1.2zM410.60 224.3h1.2v5.5h-1.2zM412.65 222.9h1.2v5.5h-1.2zM414.70 222.9h1.2v5.5h-1.2zM416.75 227.1h1.2v5.5h-1.2zM418.80 227.1h1.2v5.5h-1.2zM420.85 227.1h1.2v5.5h-1.2zM422.90 225.7h1.2v5.5h-1.2zM424.95 225.7h1.2v5.5h-1.2zM427.00 225.7h1.2v5.5h-1.2zM429.05 225.7h1.2v5.5h-1.2zM431.10 228.5h1.2v5.5h-1.2zM433.15 229.9h1.2v5.5h-1.2zM435.20 228.5h1.2v5.5h-1.2zM437.25 225.7h1.2v5.5h-1.2zM439.30 221.5h1.2v5.5h-1.2zM441.35 222.9h1.2v5.5h-1.2zM443.40 221.5h1.2v5.5h-1.2zM445.45 221.5h1.2v5.5h-1.2zM447.50 221.5h1.2v5.5h-1.2zM449.55 218.7h1.2v5.5h-1.2zM451.60 215.9h1.2v5.5h-1.2zM453.65 215.9h1.2v5.5h-1.2zM455.70 215.9h1.2v5.5h-1.2zM457.75 221.5h1.2v5.5h-1.2zM459.80 224.3h1.2v5.5h-1.2zM461.85 225.7h1.2v5.5h-1.2zM463.90 225.7h1.2v5.5h-1.2zM465.95 225.7h1.2v5.5h-1.2zM468.00 227.1h1.2v5.5h-1.2zM470.05 228.5h1.2v5.5h-1.2zM472.10 228.5h1.2v5.5h-1.2zM474.15 229.9h1.2v5.5h-1.2zM476.20 228.5h1.2v5.5h-1.2zM478.25 228.5h1.2v5.5h-1.2zM480.30 227.1h1.2v5.5h-1.2zM482.35 228.5h1.2v5.5h-1.2zM484.40 228.5h1.2v5.5h-1.2zM486.45 232.7h1.2v5.5h-1.2zM488.50 231.3h1.2v5.5h-1.2zM490.55 232.7h1.2v5.5h-1.2zM492.60 232.7h1.2v5.5h-1.2zM494.65 232.7h1.2v5.5h-1.2zM496.70 232.7h1.2v5.5h-1.2zM498.75 234.1h1.2v5.5h-1.2zM500.80 234.1h1.2v5.5h-1.2zM502.85 234.1h1.2v5.5h-1.2zM504.90 232.7h1.2v5.5h-1.2zM506.95 231.3h1.2v5.5h-1.2zM509.00 235.5h1.2v5.5h-1.2zM511.05 236.9h1.2v5.5h-1.2zM513.10 235.5h1.2v5.5h-1.2zM515.15 235.5h1.2v5.5h-1.2zM517.20 236.9h1.2v5.5h-1.2zM519.25 236.9h1.2v5.5h-1.2zM521.30 238.3h1.2v5.5h-1.2zM523.35 239.7h1.2v5.5h-1.2zM525.40 238.3h1.2v5.5h-1.2zM527.45 241.1h1.2v5.5h-1.2zM529.50 242.5h1.2v5.5h-1.2zM531.55 245.3h1.2v5.5h-1.2zM533.60 245.3h1.2v5.5h-1.2zM535.65 248.1h1.2v5.5h-1.2zM537.70 250.9h1.2v5.5h-1.2zM539.75 252.3h1.2v5.5h-1.2zM541.80 256.5h1.2v5.5h-1.2zM543.85 256.5h1.2v5.5h-1.2zM545.90 257.9h1.2v5.5h-1.2zM547.95 259.3h1.2v5.5h-1.2zM550.00 260.7h1.2v5.5h-1.2zM552.05 262.1h1.2v5.5h-1.2zM554.10 262.1h1.2v5.5h-1.2zM556.15 263.5h1.2v5.5h-1.2zM558.20 260.7h1.2v5.5h-1.2zM560.25 260.7h1.2v5.5h-1.2zM562.30 259.3h1.2v5.5h-1.2zM564.35 260.7h1.2v5.5h-1.2zM566.40 263.5h1.2v5.5h-1.2zM568.45 263.5h1.2v5.5h-1.2zM570.50 264.9h1.2v5.5h-1.2zM572.55 263.5h1.2v5.5h-1.2zM574.60 264.9h1.2v5.5h-1.2zM576.65 264.9h1.2v5.5h-1.2zM578.70 264.9h1.2v5.5h-1.2zM580.75 263.5h1.2v5.5h-1.2zM582.80 263.5h1.2v5.5h-1.2zM584.85 263.5h1.2v5.5h-1.2zM586.90 262.1h1.2v5.5h-1.2zM588.95 262.1h1.2v5.5h-1.2zM591.00 263.5h1.2v5.5h-1.2zM593.05 262.1h1.2v5.5h-1.2zM595.10 260.7h1.2v5.5h-1.2zM597.15 262.1h1.2v5.5h-1.2zM599.20 262.1h1.2v5.5h-1.2zM601.25 262.1h1.2v5.5h-1.2zM603.30 263.5h1.2v5.5h-1.2zM605.35 262.1h1.2v5.5h-1.2zM607.40 263.5h1.2v5.5h-1.2zM609.45 262.1h1.2v5.5h-1.2zM611.50 260.7h1.2v5.5h-1.2zM613.55 260.7h1.2v5.5h-1.2zM615.60 260.7h1.2v5.5h-1.2zM617.65 260.7h1.2v5.5h-1.2zM619.70 259.3h1.2v5.5h-1.2zM621.75 259.3h1.2v5.5h-1.2zM623.80 259.3h1.2v5.5h-1.2zM625.85 259.3h1.2v5.5h-1.2zM627.90 259.3h1.2v5.5h-1.2zM629.95 259.3h1.2v5.5h-1.2zM632.00 257.9h1.2v5.5h-1.2zM634.05 255.1h1.2v5.5h-1.2zM636.10 250.9h1.2v5.5h-1.2zM638.15 249.5h1.2v5.5h-1.2zM640.20 248.1h1.2v5.5h-1.2zM642.25 245.3h1.2v5.5h-1.2zM644.30 245.3h1.2v5.5h-1.2zM646.35 245.3h1.2v5.5h-1.2zM648.40 246.7h1.2v5.5h-1.2zM650.45 249.5h1.2v5.5h-1.2zM652.50 249.5h1.2v5.5h-1.2zM654.55 252.3h1.2v5.5h-1.2zM656.60 255.1h1.2v5.5h-1.2zM658.65 255.1h1.2v5.5h-1.2zM660.70 256.5h1.2v5.5h-1.2zM662.75 257.9h1.2v5.5h-1.2zM664.80 257.9h1.2v5.5h-1.2zM666.85 257.9h1.2v5.5h-1.2zM668.90 257.9h1.2v5.5h-1.2zM670.95 257.9h1.2v5.5h-1.2zM673.00 257.9h1.2v5.5h-1.2zM675.05 257.9h1.2v5.5h-1.2zM677.10 257.9h1.2v5.5h-1.2zM679.15 256.5h1.2v5.5h-1.2zM681.20 252.3h1.2v5.5h-1.2z" fill="#000080" stroke="none"/>
<path d="M73.53 268.2h0.9v4.6h-0.9zM75.58 266.7h0.9v4.6h-0.9zM77.62 266.7h0.9v4.6h-0.9zM79.67 266.7h0.9v4.6h-0.9zM81.72 268.2h0.9v4.6h-0.9zM83.77 269.6h0.9v4.6h-0.9zM85.82 269.6h0.9v4.6h-0.9zM87.87 272.4h0.9v4.6h-0.9zM89.92 271.0h0.9v4.6h-0.9zM91.97 272.4h0.9v4.6h-0.9zM94.02 273.8h0.9v4.6h-0.9zM96.07 272.4h0.9v4.6h-0.9zM98.12 273.8h0.9v4.6h-0.9zM100.17 273.8h0.9v4.6h-0.9zM102.22 272.4h0.9v4.6h-0.9zM104.27 272.4h0.9v4.6h-0.9zM106.32 272.4h0.9v4.6h-0.9zM108.37 272.4h0.9v4.6h-0.9zM110.42 273.8h0.9v4.6h-0.9zM112.47 272.4h0.9v4.6h-0.9zM114.52 272.4h0.9v4.6h-0.9zM116.57 272.4h0.9v4.6h-0.9zM118.62 272.4h0.9v4.6h-0.9zM120.67 272.4h0.9v4.6h-0.9zM122.72 272.4h0.9v4.6h-0.9zM124.77 272.4h0.9v4.6h-0.9zM126.82 272.4h0.9v4.6h-0.9zM128.87 272.4h0.9v4.6h-0.9zM130.92 272.4h0.9v4.6h-0.9zM132.97 272.4h0.9v4.6h-0.9zM135.02 271.0h0.9v4.6h-0.9zM137.07 271.0h0.9v4.6h-0.9zM139.12 271.0h0.9v4.6h-0.9zM141.18 271.0h0.9v4.6h-0.9zM143.23 269.6h0.9v4.6h-0.9zM145.28 271.0h0.9v4.6h-0.9zM147.33 271.0h0.9v4.6h-0.9zM149.38 271.0h0.9v4.6h-0.9zM151.43 271.0h0.9v4.6h-0.9zM153.48 271.0h0.9v4.6h-0.9zM155.53 271.0h0.9v4.6h-0.9zM157.58 271.0h0.9v4.6h-0.9zM159.63 269.6h0.9v4.6h-0.9zM161.68 268.2h0.9v4.6h-0.9zM163.73 268.2h0.9v4.6h-0.9zM165.78 268.2h0.9v4.6h-0.9zM167.83 266.7h0.9v4.6h-0.9zM169.88 266.7h0.9v4.6h-0.9zM171.93 266.7h0.9v4.6h-0.9zM173.98 266.7h0.9v4.6h-0.9zM176.03 263.9h0.9v4.6h-0.9zM178.08 263.9h0.9v4.6h-0.9zM180.13 262.5h0.9v4.6h-0.9zM182.18 262.5h0.9v4.6h-0.9zM184.23 262.5h0.9v4.6h-0.9zM186.28 265.3h0.9v4.6h-0.9zM188.33 265.3h0.9v4.6h-0.9zM190.38 266.7h0.9v4.6h-0.9zM192.43 266.7h0.9v4.6h-0.9zM194.48 268.2h0.9v4.6h-0.9zM196.53 269.6h0.9v4.6h-0.9zM198.58 268.2h0.9v4.6h-0.9zM200.63 269.6h0.9v4.6h-0.9zM202.68 271.0h0.9v4.6h-0.9zM204.73 271.0h0.9v4.6h-0.9zM206.78 269.6h0.9v4.6h-0.9zM208.83 271.0h0.9v4.6h-0.9zM210.88 271.0h0.9v4.6h-0.9zM212.93 269.6h0.9v4.6h-0.9zM214.98 268.2h0.9v4.6h-0.9zM217.03 268.2h0.9v4.6h-0.9zM219.08 268.2h0.9v4.6h-0.9zM221.13 268.2h0.9v4.6h-0.9zM223.18 266.7h0.9v4.6h-0.9zM225.23 265.3h0.9v4.6h-0.9zM227.28 265.3h0.9v4.6h-0.9zM229.33 265.3h0.9v4.6h-0.9zM231.38 265.3h0.9v4.6h-0.9zM233.43 265.3h0.9v4.6h-0.9zM235.48 265.3h0.9v4.6h-0.9zM237.53 263.9h0.9v4.6h-0.9zM239.58 263.9h0.9v4.6h-0.9zM241.63 263.9h0.9v4.6h-0.9zM243.68 263.9h0.9v4.6h-0.9zM245.73 265.3h0.9v4.6h-0.9zM247.78 263.9h0.9v4.6h-0.9zM249.83 263.9h0.9v4.6h-0.9zM251.88 263.9h0.9v4.6h-0.9zM253.93 263.9h0.9v4.6h-0.9zM255.98 261.1h0.9v4.6h-0.9zM258.03 261.1h0.9v4.6h-0.9zM260.08 259.7h0.9v4.6h-0.9zM262.13 259.7h0.9v4.6h-0.9zM264.18 259.7h0.9v4.6h-0.9zM266.23 259.7h0.9v4.6h-0.9zM268.28 259.7h0.9v4.6h-0.9zM270.33 259.7h0.9v4.6h-0.9zM272.38 259.7h0.9v4.6h-0.9zM274.43 259.7h0.9v4.6h-0.9zM276.48 261.1h0.9v4.6h-0.9zM278.53 261.1h0.9v4.6h-0.9zM280.58 261.1h0.9v4.6h-0.9zM282.63 262.5h0.9v4.6h-0.9zM284.68 262.5h0.9v4.6h-0.9zM286.73 261.1h0.9v4.6h-0.9zM288.78 262.5h0.9v4.6h-0.9zM290.83 263.9h0.9v4.6h-0.9zM292.88 263.9h0.9v4.6h-0.9zM294.93 259.7h0.9v4.6h-0.9zM296.98 256.9h0.9v4.6h-0.9zM299.03 255.5h0.9v4.6h-0.9zM301.08 252.7h0.9v4.6h-0.9zM303.13 247.1h0.9v4.6h-0.9zM305.18 244.3h0.9v4.6h-0.9zM307.23 244.3h0.9v4.6h-0.9zM309.28 244.3h0.9v4.6h-0.9zM311.33 244.3h0.9v4.6h-0.9zM313.38 241.5h0.9v4.6h-0.9zM315.43 237.3h0.9v4.6h-0.9zM317.48 228.9h0.9v4.6h-0.9zM319.53 226.1h0.9v4.6h-0.9zM321.58 226.1h0.9v4.6h-0.9zM323.63 224.7h0.9v4.6h-0.9zM325.68 223.3h0.9v4.6h-0.9zM327.73 219.1h0.9v4.6h-0.9zM329.78 214.9h0.9v4.6h-0.9zM331.83 207.9h0.9v4.6h-0.9zM333.88 198.1h0.9v4.6h-0.9zM335.93 195.3h0.9v4.6h-0.9zM337.98 192.5h0.9v4.6h-0.9zM340.03 192.5h0.9v4.6h-0.9zM342.08 192.5h0.9v4.6h-0.9zM344.13 189.7h0.9v4.6h-0.9zM346.18 186.9h0.9v4.6h-0.9zM348.23 185.5h0.9v4.6h-0.9zM350.28 185.5h0.9v4.6h-0.9zM352.33 184.1h0.9v4.6h-0.9zM354.38 181.3h0.9v4.6h-0.9zM356.43 179.9h0.9v4.6h-0.9zM358.48 178.5h0.9v4.6h-0.9zM360.53 179.9h0.9v4.6h-0.9zM362.58 185.5h0.9v4.6h-0.9zM364.63 186.9h0.9v4.6h-0.9zM366.68 185.5h0.9v4.6h-0.9zM368.73 177.1h0.9v4.6h-0.9zM370.78 174.3h0.9v4.6h-0.9zM372.83 165.9h0.9v4.6h-0.9zM374.88 157.4h0.9v4.6h-0.9zM376.93 150.4h0.9v4.6h-0.9zM378.98 135.0h0.9v4.6h-0.9zM381.03 129.4h0.9v4.6h-0.9zM383.08 130.8h0.9v4.6h-0.9zM385.13 133.6h0.9v4.6h-0.9zM387.18 136.4h0.9v4.6h-0.9zM389.23 143.4h0.9v4.6h-0.9zM391.28 151.8h0.9v4.6h-0.9zM393.33 172.9h0.9v4.6h-0.9zM395.38 192.5h0.9v4.6h-0.9zM397.43 203.7h0.9v4.6h-0.9zM399.48 206.5h0.9v4.6h-0.9zM401.53 207.9h0.9v4.6h-0.9zM403.58 214.9h0.9v4.6h-0.9zM405.63 223.3h0.9v4.6h-0.9zM407.68 224.7h0.9v4.6h-0.9zM409.73 224.7h0.9v4.6h-0.9zM411.78 223.3h0.9v4.6h-0.9zM413.83 223.3h0.9v4.6h-0.9zM415.88 224.7h0.9v4.6h-0.9zM417.93 227.5h0.9v4.6h-0.9zM419.98 227.5h0.9v4.6h-0.9zM422.03 227.5h0.9v4.6h-0.9zM424.08 226.1h0.9v4.6h-0.9zM426.13 226.1h0.9v4.6h-0.9zM428.18 224.7h0.9v4.6h-0.9zM430.23 227.5h0.9v4.6h-0.9zM432.28 230.3h0.9v4.6h-0.9zM434.33 230.3h0.9v4.6h-0.9zM436.38 227.5h0.9v4.6h-0.9zM438.43 221.9h0.9v4.6h-0.9zM440.48 221.9h0.9v4.6h-0.9zM442.53 223.3h0.9v4.6h-0.9zM444.58 221.9h0.9v4.6h-0.9zM446.63 221.9h0.9v4.6h-0.9zM448.68 220.5h0.9v4.6h-0.9zM450.73 217.7h0.9v4.6h-0.9zM452.78 216.3h0.9v4.6h-0.9zM454.83 216.3h0.9v4.6h-0.9zM456.88 219.1h0.9v4.6h-0.9zM458.93 221.9h0.9v4.6h-0.9zM460.98 226.1h0.9v4.6h-0.9zM463.03 224.7h0.9v4.6h-0.9zM465.08 226.1h0.9v4.6h-0.9zM467.13 226.1h0.9v4.6h-0.9zM469.18 227.5h0.9v4.6h-0.9zM471.23 228.9h0.9v4.6h-0.9zM473.28 230.3h0.9v4.6h-0.9zM475.33 230.3h0.9v4.6h-0.9zM477.38 228.9h0.9v4.6h-0.9zM479.43 227.5h0.9v4.6h-0.9zM481.48 228.9h0.9v4.6h-0.9zM483.53 228.9h0.9v4.6h-0.9zM485.58 231.7h0.9v4.6h-0.9zM487.63 233.1h0.9v4.6h-0.9zM489.68 231.7h0.9v4.6h-0.9zM491.73 233.1h0.9v4.6h-0.9zM493.78 231.7h0.9v4.6h-0.9zM495.83 233.1h0.9v4.6h-0.9zM497.88 234.5h0.9v4.6h-0.9zM499.93 234.5h0.9v4.6h-0.9zM501.98 234.5h0.9v4.6h-0.9zM504.03 234.5h0.9v4.6h-0.9zM506.08 231.7h0.9v4.6h-0.9zM508.13 235.9h0.9v4.6h-0.9zM510.18 237.3h0.9v4.6h-0.9zM512.23 237.3h0.9v4.6h-0.9zM514.28 237.3h0.9v4.6h-0.9zM516.33 234.5h0.9v4.6h-0.9zM518.38 237.3h0.9v4.6h-0.9zM520.43 238.7h0.9v4.6h-0.9zM522.48 238.7h0.9v4.6h-0.9zM524.53 240.1h0.9v4.6h-0.9zM526.58 241.5h0.9v4.6h-0.9zM528.63 241.5h0.9v4.6h-0.9zM530.68 245.7h0.9v4.6h-0.9zM532.73 244.3h0.9v4.6h-0.9zM534.78 247.1h0.9v4.6h-0.9zM536.83 249.9h0.9v4.6h-0.9zM538.88 251.3h0.9v4.6h-0.9zM540.93 255.5h0.9v4.6h-0.9zM542.98 256.9h0.9v4.6h-0.9zM545.03 258.3h0.9v4.6h-0.9zM547.08 258.3h0.9v4.6h-0.9zM549.13 259.7h0.9v4.6h-0.9zM551.18 261.1h0.9v4.6h-0.9zM553.23 262.5h0.9v4.6h-0.9zM555.28 263.9h0.9v4.6h-0.9zM557.33 262.5h0.9v4.6h-0.9zM559.38 261.1h0.9v4.6h-0.9zM561.43 259.7h0.9v4.6h-0.9zM563.48 261.1h0.9v4.6h-0.9zM565.53 261.1h0.9v4.6h-0.9zM567.58 263.9h0.9v4.6h-0.9zM569.63 263.9h0.9v4.6h-0.9zM571.68 265.3h0.9v4.6h-0.9zM573.73 263.9h0.9v4.6h-0.9zM575.78 265.3h0.9v4.6h-0.9zM577.83 265.3h0.9v4.6h-0.9zM579.88 265.3h0.9v4.6h-0.9zM581.93 263.9h0.9v4.6h-0.9zM583.98 263.9h0.9v4.6h-0.9zM586.03 263.9h0.9v4.6h-0.9zM588.08 262.5h0.9v4.6h-0.9zM590.13 263.9h0.9v4.6h-0.9zM592.18 262.5h0.9v4.6h-0.9zM594.23 261.1h0.9v4.6h-0.9zM596.28 262.5h0.9v4.6h-0.9zM598.33 262.5h0.9v4.6h-0.9zM600.38 262.5h0.9v4.6h-0.9zM602.42 262.5h0.9v4.6h-0.9zM604.47 263.9h0.9v4.6h-0.9zM606.52 262.5h0.9v4.6h-0.9zM608.57 262.5h0.9v4.6h-0.9zM610.62 261.1h0.9v4.6h-0.9zM612.67 261.1h0.9v4.6h-0.9zM614.72 261.1h0.9v4.6h-0.9zM616.77 261.1h0.9v4.6h-0.9zM618.82 259.7h0.9v4.6h-0.9zM620.87 259.7h0.9v4.6h-0.9zM622.92 259.7h0.9v4.6h-0.9zM624.97 259.7h0.9v4.6h-0.9zM627.02 259.7h0.9v4.6h-0.9zM629.07 259.7h0.9v4.6h-0.9zM631.12 259.7h0.9v4.6h-0.9zM633.17 256.9h0.9v4.6h-0.9zM635.22 254.1h0.9v4.6h-0.9zM637.27 251.3h0.9v4.6h-0.9zM639.32 248.5h0.9v4.6h-0.9zM641.37 245.7h0.9v4.6h-0.9zM643.42 245.7h0.9v4.6h-0.9zM645.47 244.3h0.9v4.6h-0.9zM647.52 245.7h0.9v4.6h-0.9zM649.57 248.5h0.9v4.6h-0.9zM651.62 249.9h0.9v4.6h-0.9zM653.67 252.7h0.9v4.6h-0.9zM655.72 254.1h0.9v4.6h-0.9zM657.77 255.5h0.9v4.6h-0.9zM659.82 255.5h0.9v4.6h-0.9zM661.87 256.9h0.9v4.6h-0.9zM663.92 258.3h0.9v4.6h-0.9zM665.97 258.3h0.9v4.6h-0.9zM668.02 258.3h0.9v4.6h-0.9zM670.07 258.3h0.9v4.6h-0.9zM672.12 258.3h0.9v4.6h-0.9zM674.17 258.3h0.9v4.6h-0.9zM676.22 258.3h0.9v4.6h-0.9zM678.27 256.9h0.9v4.6h-0.9z" fill="#fff" fill-opacity="0.3" stroke="none"/>
<text transform="translate(0 43.8) scale(0.775 1)" x="355.00 371.84 376.84 393.97 410.35 423.29 437.32 442.26 455.19 468.35 482.19 487.77 492.77 506.74 520.74 527.94 533.13 544.94 558.13" font-size="22.5" stroke-width="0.55">UK wholesale prices</text>
<text transform="translate(54.8 110.6) scale(0.837 1)" font-size="21.75" stroke-width="0.5" text-anchor="end">300</text>
<text transform="translate(54.8 146.6) scale(0.837 1)" font-size="21.75" stroke-width="0.5" text-anchor="end">250</text>
<text transform="translate(54.8 184.6) scale(0.837 1)" font-size="21.75" stroke-width="0.5" text-anchor="end">200</text>
<text transform="translate(54.8 220.5) scale(0.837 1)" font-size="21.75" stroke-width="0.5" text-anchor="end">150</text>
<text transform="translate(54.8 256.9) scale(0.837 1)" font-size="21.75" stroke-width="0.5" text-anchor="end">100</text>
<text transform="translate(54.8 294.5) scale(0.837 1)" font-size="21.75" stroke-width="0.5" text-anchor="end">50</text>
<text transform="translate(54.8 331.0) scale(0.837 1)" font-size="21.75" stroke-width="0.5" text-anchor="end">0</text>
<text transform="translate(74.65 414) rotate(-90) scale(1.167 1)" x="1.03 10.45 21.78 32.11 39.14 49.25" font-size="17.75" stroke-width="0.55">Jan-00</text>
<text transform="translate(121.65 414) rotate(-90) scale(1.167 1)" x="1.03 10.45 21.78 32.11 39.14 49.25" font-size="17.75" stroke-width="0.55">Jan-03</text>
<text transform="translate(167.05 414) rotate(-90) scale(1.167 1)" x="1.03 10.45 21.78 32.11 39.14 49.25" font-size="17.75" stroke-width="0.55">Jan-06</text>
<text transform="translate(213.55 414) rotate(-90) scale(1.167 1)" x="1.03 10.45 21.78 32.11 39.14 49.25" font-size="17.75" stroke-width="0.55">Jan-09</text>
<text transform="translate(259.55 414) rotate(-90) scale(1.167 1)" x="1.03 10.45 21.78 32.11 39.14 49.25" font-size="17.75" stroke-width="0.55">Jan-12</text>
<text transform="translate(306.05 414) rotate(-90) scale(1.167 1)" x="1.03 10.45 21.78 32.11 39.14 49.25" font-size="17.75" stroke-width="0.55">Jan-15</text>
<text transform="translate(351.65 414) rotate(-90) scale(1.167 1)" x="1.03 10.45 21.78 32.11 39.14 49.25" font-size="17.75" stroke-width="0.55">Jan-18</text>
<text transform="translate(398.35 414) rotate(-90) scale(1.167 1)" x="1.03 10.45 21.78 32.11 39.14 49.25" font-size="17.75" stroke-width="0.55">Jan-21</text>
<text transform="translate(443.95 414) rotate(-90) scale(1.167 1)" x="1.03 10.45 21.78 32.11 39.14 49.25" font-size="17.75" stroke-width="0.55">Jan-24</text>
<text transform="translate(490.45 414) rotate(-90) scale(1.167 1)" x="1.03 10.45 21.78 32.11 39.14 49.25" font-size="17.75" stroke-width="0.55">Jan-27</text>
<text transform="translate(536.75 414) rotate(-90) scale(1.167 1)" x="1.03 10.45 21.78 32.11 39.14 49.25" font-size="17.75" stroke-width="0.55">Jan-30</text>
<text transform="translate(583.45 414) rotate(-90) scale(1.167 1)" x="1.03 10.45 21.78 32.11 39.14 49.25" font-size="17.75" stroke-width="0.55">Jan-33</text>
<text transform="translate(628.95 414) rotate(-90) scale(1.167 1)" x="1.03 10.45 21.78 32.11 39.14 49.25" font-size="17.75" stroke-width="0.55">Jan-36</text>
<text transform="translate(675.80 414) rotate(-90) scale(1.167 1)" x="1.03 10.45 21.78 32.11 39.14 49.25" font-size="17.75" stroke-width="0.55">Jan-39</text>
<path d="M24.6 218.00h4.1v3.9h-4.1zM31.05 218.00h4v3.9h-4zM24.6 254.40h4.1v3.9h-4.1zM31.05 254.40h4v3.9h-4zM257.30 356.7h3.6v4.30h-3.6zM257.30 363.6h3.6v4.40h-3.6zM303.80 356.7h3.6v4.30h-3.6zM303.80 363.6h3.6v4.40h-3.6zM349.40 356.7h3.6v4.30h-3.6zM349.40 363.6h3.6v4.40h-3.6zM396.10 344.6h3.6v4.35h-3.6zM396.10 351.8h3.6v4.40h-3.6z" fill="#fff"/>
</svg>
</body></html>
